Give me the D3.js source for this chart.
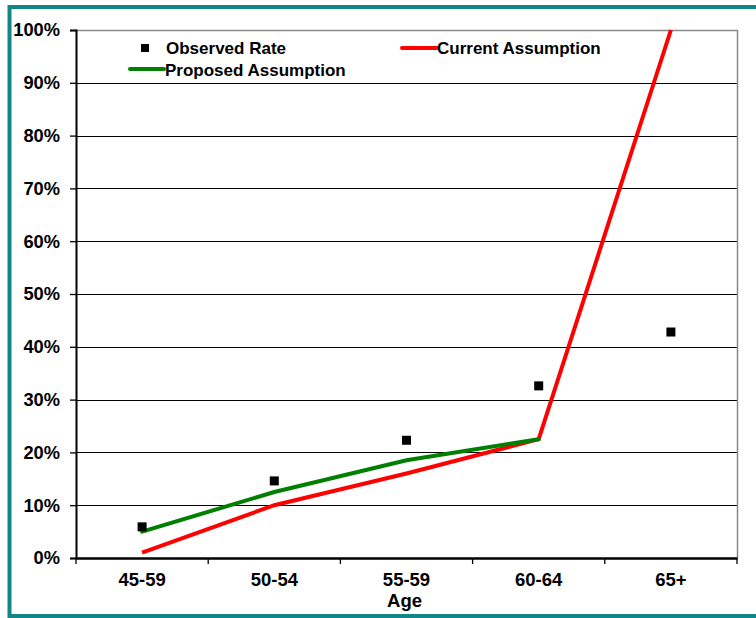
<!DOCTYPE html>
<html>
<head>
<meta charset="utf-8">
<script src="https://cdn.jsdelivr.net/npm/d3@7"></script>
<style>
  body { margin: 0; background: #fff; }
  svg { display: block; font-family: "Liberation Sans", Arial, sans-serif; font-weight: bold; }
</style>
</head>
<body>
<div id="chart"></div>
<script>
const ages = ["45-59", "50-54", "55-59", "60-64", "65+"];
const observedRate = [0.059, 0.146, 0.223, 0.326, 0.428];
const currentAssumption = [0.01, 0.10, 0.16, 0.225, 1.00];
const proposedAssumption = [0.05, 0.125, 0.185, 0.225];
const yTicks = [0, 0.1, 0.2, 0.3, 0.4, 0.5, 0.6, 0.7, 0.8, 0.9, 1.0];

const width = 756, height = 618;
const margin = { top: 30, right: 19, bottom: 60, left: 76 };

const svg = d3.select("#chart").append("svg")
  .attr("width", width).attr("height", height);

// teal frame
svg.append("rect")
  .attr("x", 9.5).attr("y", 7).attr("width", 760).attr("height", 609)
  .attr("fill", "none").attr("stroke", "#138585").attr("stroke-width", 4);

const x = d3.scaleBand().domain(ages).range([margin.left, width - margin.right]);
const y = d3.scaleLinear().domain([0, 1]).range([height - margin.bottom, margin.top]);

// gridlines
svg.append("g").selectAll("line").data(yTicks.slice(1, -1)).enter().append("line")
  .attr("x1", margin.left).attr("x2", width - margin.right)
  .attr("y1", d => Math.round(y(d)) + 0.5).attr("y2", d => Math.round(y(d)) + 0.5)
  .attr("stroke", "#000").attr("stroke-width", 1);

// plot border top/right (grey)
svg.append("path")
  .attr("d", `M${margin.left},${margin.top + 0.5}H${width - margin.right + 0.5}V${height - margin.bottom}`)
  .attr("fill", "none").attr("stroke", "#888").attr("stroke-width", 1.5);

// y axis
const yAxis = svg.append("g").attr("transform", `translate(${margin.left},0)`)
  .call(d3.axisLeft(y).tickValues(yTicks).tickFormat(d3.format(".0%")).tickSize(6).tickPadding(10));
yAxis.select(".domain").attr("stroke", "#000").attr("stroke-width", 2);
yAxis.selectAll(".tick line").attr("stroke", "#000").attr("stroke-width", 1.3);
yAxis.selectAll("text").attr("font-size", 18.3).attr("font-weight", "bold").attr("fill", "#000")
  .attr("font-family", "Liberation Sans, Arial, sans-serif");

// x axis
const xAxis = svg.append("g").attr("transform", `translate(0,${height - margin.bottom})`)
  .call(d3.axisBottom(x).tickSize(0).tickPadding(15));
xAxis.select(".domain").attr("stroke", "#000").attr("stroke-width", 2.5);
xAxis.selectAll("text").attr("font-size", 18.5).attr("font-weight", "bold").attr("fill", "#000")
  .attr("font-family", "Liberation Sans, Arial, sans-serif");
xAxis.selectAll(".sep").data(d3.range(ages.length + 1)).enter().append("line")
  .attr("x1", i => margin.left + i * x.bandwidth()).attr("x2", i => margin.left + i * x.bandwidth())
  .attr("y1", 0).attr("y2", 6).attr("stroke", "#000").attr("stroke-width", 1.3);

svg.append("text").attr("x", x("55-59") + x.bandwidth() / 2 - 2).attr("y", 607)
  .attr("text-anchor", "middle").attr("font-size", 18.5).text("Age");

const cx = d => x(d) + x.bandwidth() / 2;

// lines
const line = d3.line().x(d => cx(d.age)).y(d => y(d.v));
svg.append("path")
  .datum(currentAssumption.map((v, i) => ({ age: ages[i], v })))
  .attr("fill", "none").attr("stroke", "#ff0000").attr("stroke-width", 4)
  .attr("d", line);
svg.append("path")
  .datum(proposedAssumption.map((v, i) => ({ age: ages[i], v })))
  .attr("fill", "none").attr("stroke", "#007f00").attr("stroke-width", 4).attr("stroke-linecap", "round")
  .attr("d", line);

// observed points
svg.append("g").selectAll("rect").data(observedRate).enter().append("rect")
  .attr("x", (d, i) => cx(ages[i]) - 4.5).attr("y", d => y(d) - 4.5)
  .attr("width", 9).attr("height", 9).attr("fill", "#000");

// legend
const legend = svg.append("g").attr("font-size", 17);
legend.append("rect").attr("x", 141).attr("y", 44).attr("width", 8).attr("height", 8).attr("fill", "#000");
legend.append("text").attr("x", 166).attr("y", 54).text("Observed Rate");
legend.append("line").attr("x1", 402).attr("x2", 437).attr("y1", 48).attr("y2", 48)
  .attr("stroke", "#ff0000").attr("stroke-width", 4).attr("stroke-linecap", "round");
legend.append("text").attr("x", 437).attr("y", 54).text("Current Assumption");
legend.append("line").attr("x1", 130).attr("x2", 164).attr("y1", 69).attr("y2", 69)
  .attr("stroke", "#007f00").attr("stroke-width", 4).attr("stroke-linecap", "round");
legend.append("text").attr("x", 165).attr("y", 76).text("Proposed Assumption");
</script>
</body>
</html>
